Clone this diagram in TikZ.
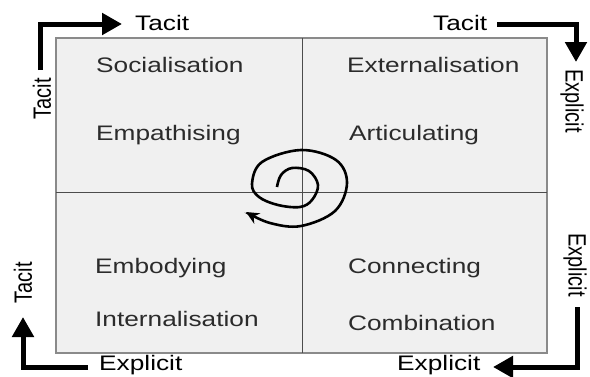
\documentclass[tikz,border=0pt]{standalone}
\usepackage{fontspec}
\setmainfont{Liberation Sans}
\usepackage{graphicx}
\usepackage{xcolor}
\usetikzlibrary{arrows.meta}

\definecolor{boxfill}{HTML}{F0F0F0}
\definecolor{boxline}{HTML}{8A8A8A}
\definecolor{inkgray}{HTML}{2B2B2B}

% text in the reference is stretched sideways
\newcommand{\widetext}[1]{\scalebox{1.25}[1]{#1}}
\newcommand{\sidetext}[1]{\scalebox{1}[1.25]{#1}}

\begin{document}
\begin{tikzpicture}[
    x=1pt, y=-1pt,
    mode/.style={anchor=base west, inner sep=0pt, text=inkgray, font=\fontsize{21}{25}\selectfont},
    axis/.style={inner sep=0pt, text=black, font=\fontsize{21}{25}\selectfont},
    sideaxis/.style={inner sep=0pt, text=black, font=\fontsize{20}{24}\selectfont},
    flow/.style={line width=5pt, -{Triangle[length=20pt,width=21pt]}},
    swirl/.style={line width=2.6pt, -{Stealth[length=13pt,width=12pt]}},
]
\useasboundingbox (0,0) rectangle (590,376);

% Grid
\draw[boxline, fill=boxfill, line width=1.4pt] (56,38) rectangle (547,353);
\draw[black!70, line width=1pt] (302,38) -- (302,353);
\draw[black!70, line width=1pt] (56,192) -- (547,192);

% Quadrant labels
\node[mode] (social) at (96,72) {\widetext{Socialisation}};
\node[mode] (empath) at (96,140) {\widetext{Empathising}};
\node[mode] (extern) at (347,72) {\widetext{Externalisation}};
\node[mode] (artic) at (349,140) {\widetext{Articulating}};
\node[mode] (embody) at (95,273) {\widetext{Embodying}};
\node[mode] (intern) at (95,326) {\widetext{Internalisation}};
\node[mode] (connect) at (348,273) {\widetext{Connecting}};
\node[mode] (combine) at (348,330) {\widetext{Combination}};

% Axis labels
\node[axis, anchor=base west] (tacitTL) at (135,30) {\widetext{Tacit}};
\node[axis, anchor=base west] (tacitTR) at (433,30) {\widetext{Tacit}};
\node[axis, anchor=base west] (explicitBL) at (99,370) {\widetext{Explicit}};
\node[axis, anchor=base west] (explicitBR) at (397,370) {\widetext{Explicit}};
\node[sideaxis, rotate=90] (tacitL) at (42,99) {\sidetext{Tacit}};
\node[sideaxis, rotate=90] (tacitBL) at (23,283) {\sidetext{Tacit}};
\node[sideaxis, rotate=-90] (explicitR) at (572,101) {\sidetext{Explicit}};
\node[sideaxis, rotate=-90] (explicitBRs) at (575,265) {\sidetext{Explicit}};

% Corner arrows
\coordinate (tlFrom) at (40,70);
\coordinate (tlTo) at (122,24);
\coordinate (trFrom) at (497,24);
\coordinate (trTo) at (576,62);
\coordinate (brFrom) at (577,307);
\coordinate (brTo) at (493,367);
\coordinate (blFrom) at (88,367);
\coordinate (blTo) at (23,317);
\draw[flow] (tlFrom) |- (tlTo);
\draw[flow] (trFrom) -| (trTo);
\draw[flow] (brFrom) |- (brTo);
\draw[flow] (blFrom) -| (blTo);

% Spiral
\draw[swirl] plot[smooth, tension=0.6] coordinates {
    (277,187) (281,175) (292,168) (309,171) (318,185) (312,200) (300,207)
    (278,205) (259,197) (252,184) (262,162) (301,150) (336,160) (347,183)
    (335,211) (301,226) (270,223) (246,212)};

\end{tikzpicture}
\end{document}
